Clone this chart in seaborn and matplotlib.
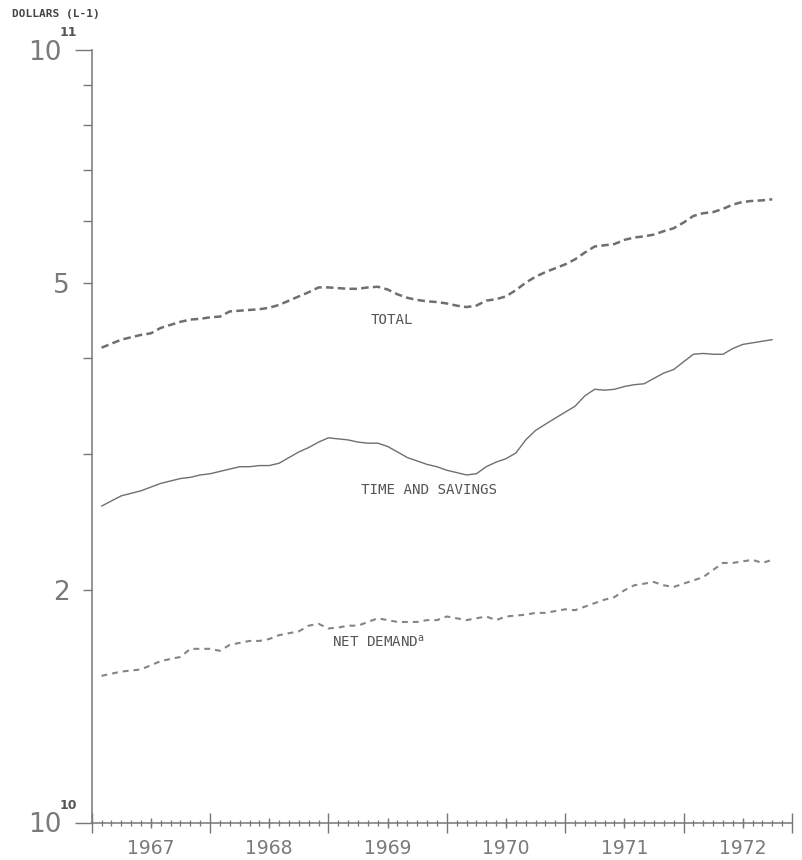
#import the libraries
import numpy as np
import pandas as pd
import matplotlib
matplotlib.use('Agg')
import matplotlib.pyplot as plt
import matplotlib.ticker as mticker
import matplotlib.transforms as mtrans
import seaborn as sns

# monthly data, Feb 1967 .. Oct 1972 (billions of dollars)
start_year = 1967
start_month = 2
total = [41.2, 41.7, 42.2, 42.5, 42.8, 43.0, 43.7, 44.1, 44.5, 44.8, 44.9, 45.1,
         45.2, 45.9, 46.0, 46.1, 46.2, 46.4, 46.8, 47.4, 48.0, 48.6, 49.3, 49.3,
         49.2, 49.1, 49.1, 49.3, 49.4, 49.0, 48.3, 47.8, 47.5, 47.3, 47.2, 47.0,
         46.7, 46.5, 46.7, 47.4, 47.6, 48.0, 48.9, 50.0, 50.9, 51.6, 52.2, 52.8,
         53.6, 54.7, 55.7, 55.9, 56.1, 56.8, 57.2, 57.4, 57.7, 58.3, 58.8, 59.8,
         61.0, 61.5, 61.7, 62.3, 63.1, 63.6, 63.8, 63.9, 64.1]
time_savings = [25.7, 26.1, 26.5, 26.7, 26.9, 27.2, 27.5, 27.7, 27.9, 28.0, 28.2, 28.3,
                28.5, 28.7, 28.9, 28.9, 29.0, 29.0, 29.2, 29.7, 30.2, 30.6, 31.1, 31.5,
                31.4, 31.3, 31.1, 31.0, 31.0, 30.7, 30.2, 29.7, 29.4, 29.1, 28.9, 28.6,
                28.4, 28.2, 28.3, 28.9, 29.3, 29.6, 30.1, 31.3, 32.2, 32.8, 33.4, 34.0,
                34.6, 35.7, 36.4, 36.3, 36.4, 36.7, 36.9, 37.0, 37.6, 38.2, 38.6, 39.5,
                40.4, 40.5, 40.4, 40.4, 41.1, 41.6, 41.8, 42.0, 42.2]
net_demand = [15.5, 15.6, 15.7, 15.75, 15.8, 16.0, 16.2, 16.3, 16.4, 16.8, 16.8, 16.8,
              16.7, 17.0, 17.1, 17.2, 17.2, 17.3, 17.5, 17.6, 17.7, 18.0, 18.1, 17.85,
              17.9, 18.0, 18.0, 18.2, 18.4, 18.3, 18.2, 18.2, 18.2, 18.3, 18.3, 18.5,
              18.4, 18.3, 18.4, 18.5, 18.3, 18.5, 18.55, 18.6, 18.7, 18.7, 18.8, 18.9,
              18.85, 19.05, 19.25, 19.45, 19.6, 20.0, 20.3, 20.4, 20.5, 20.3, 20.2, 20.4,
              20.6, 20.8, 21.25, 21.7, 21.7, 21.8, 21.9, 21.7, 21.9]
years = ['1967', '1968', '1969', '1970', '1971', '1972']
decades = [1e10, 1e11]
decade_exp = ['10', '11']

# build the dataframe (x = months since Jan 1967)
dates = pd.period_range('%d-%02d' % (start_year, start_month), periods=len(total), freq='M')
month_idx = (dates.year - start_year) * 12 + dates.month - 1
df = pd.DataFrame({'month': month_idx,
                   'total': np.array(total) * 1e9,
                   'time_savings': np.array(time_savings) * 1e9,
                   'net_demand': np.array(net_demand) * 1e9})

sns.set_style('ticks')
plt.rcParams['font.family'] = ['DejaVu Sans']

fig = plt.figure(figsize=(8.03, 8.6), dpi=100)
ax = fig.add_axes([91.7 / 803, 37 / 860, (792 - 91.7) / 803, 773 / 860])

grey = '#6f6f6f'
sns.lineplot(data=df, x='month', y='total', ax=ax, color=grey, lw=1.8,
             linestyle=(0, (3.0, 1.7)))
sns.lineplot(data=df, x='month', y='time_savings', ax=ax, color=grey, lw=1.0)
sns.lineplot(data=df, x='month', y='net_demand', ax=ax, color='#858585', lw=1.5,
             linestyle=(0, (2.8, 2.4)))

ax.set_yscale('log')
ax.set_ylim(1e10, 1e11)
ax.set_xlim(0, 71)
ax.set_xlabel('')
ax.set_ylabel('')

for s in ['top', 'right']:
    ax.spines[s].set_visible(False)
for s in ['left', 'bottom']:
    ax.spines[s].set_color('#777777')
    ax.spines[s].set_linewidth(1.1)

# y ticks
ax.yaxis.set_major_locator(mticker.FixedLocator(decades))
ax.yaxis.set_major_formatter(mticker.NullFormatter())
ax.yaxis.set_minor_locator(mticker.FixedLocator([k * 1e10 for k in range(2, 10)]))
ax.yaxis.set_minor_formatter(mticker.FuncFormatter(
    lambda v, p: '%d' % round(v / 1e10) if round(v / 1e10) in (2, 5) else ''))
ax.tick_params(axis='y', which='major', length=12.5, width=1.0, color='#777777')
ax.tick_params(axis='y', which='minor', length=6.5, width=1.0, color='#777777',
               labelsize=19, labelcolor='#7a7a7a', pad=9)

# decade labels: big "10" with small exponent
trans = mtrans.blended_transform_factory(fig.transFigure, ax.transData)
for val, ex in zip(decades, decade_exp):
    ax.text(45 / 803, val, '10',
            transform=trans + mtrans.ScaledTranslation(0, -2.5 / 100, fig.dpi_scale_trans),
            fontsize=19, color='#7a7a7a', ha='center', va='center')
    ax.text(68.5 / 803, val, ex,
            transform=trans + mtrans.ScaledTranslation(0, 17.5 / 100, fig.dpi_scale_trans),
            fontsize=9, color='#555555', ha='center', va='center', fontweight='bold')

# x ticks: years (major), months (minor)
ax.xaxis.set_major_locator(mticker.FixedLocator([0, 12, 24, 36, 48, 60, 71]))
ax.xaxis.set_minor_locator(mticker.FixedLocator(list(range(0, 72))))
ax.xaxis.set_major_formatter(mticker.NullFormatter())
ax.tick_params(axis='x', which='major', direction='inout', length=14.5, width=1.0,
               color='#777777')
ax.tick_params(axis='x', which='minor', direction='inout', length=5, width=0.9,
               color='#777777')

# half-year ticks carry the year labels
sec = ax.secondary_xaxis('bottom')
sec.spines['bottom'].set_visible(False)
sec.xaxis.set_major_locator(mticker.FixedLocator([6, 18, 30, 42, 54, 66]))
sec.xaxis.set_major_formatter(mticker.FixedFormatter(years))
sec.xaxis.set_minor_locator(mticker.NullLocator())
sec.tick_params(axis='x', which='major', direction='inout', length=7.5, width=1.0,
                color='#777777', labelsize=13.5, labelcolor='#7a7a7a', pad=8)

# series labels
lab = dict(family='DejaVu Sans Mono', fontsize=10.2, color='#555555',
           ha='center', va='center')
ax.text(30.4, 44.7e9, 'TOTAL', **lab)
ax.text(34.2, 27.0e9, 'TIME AND SAVINGS', **lab)
ax.text(29.0, 17.15e9, r'NET DEMAND$^{\mathrm{a}}$', **lab)

fig.text(12 / 803, 1 - 14 / 860, 'DOLLARS (L-1)', family='DejaVu Sans Mono',
         fontsize=8, color='#444444', ha='left', va='center', fontweight='bold')

fig.savefig('out.png', dpi=100)
